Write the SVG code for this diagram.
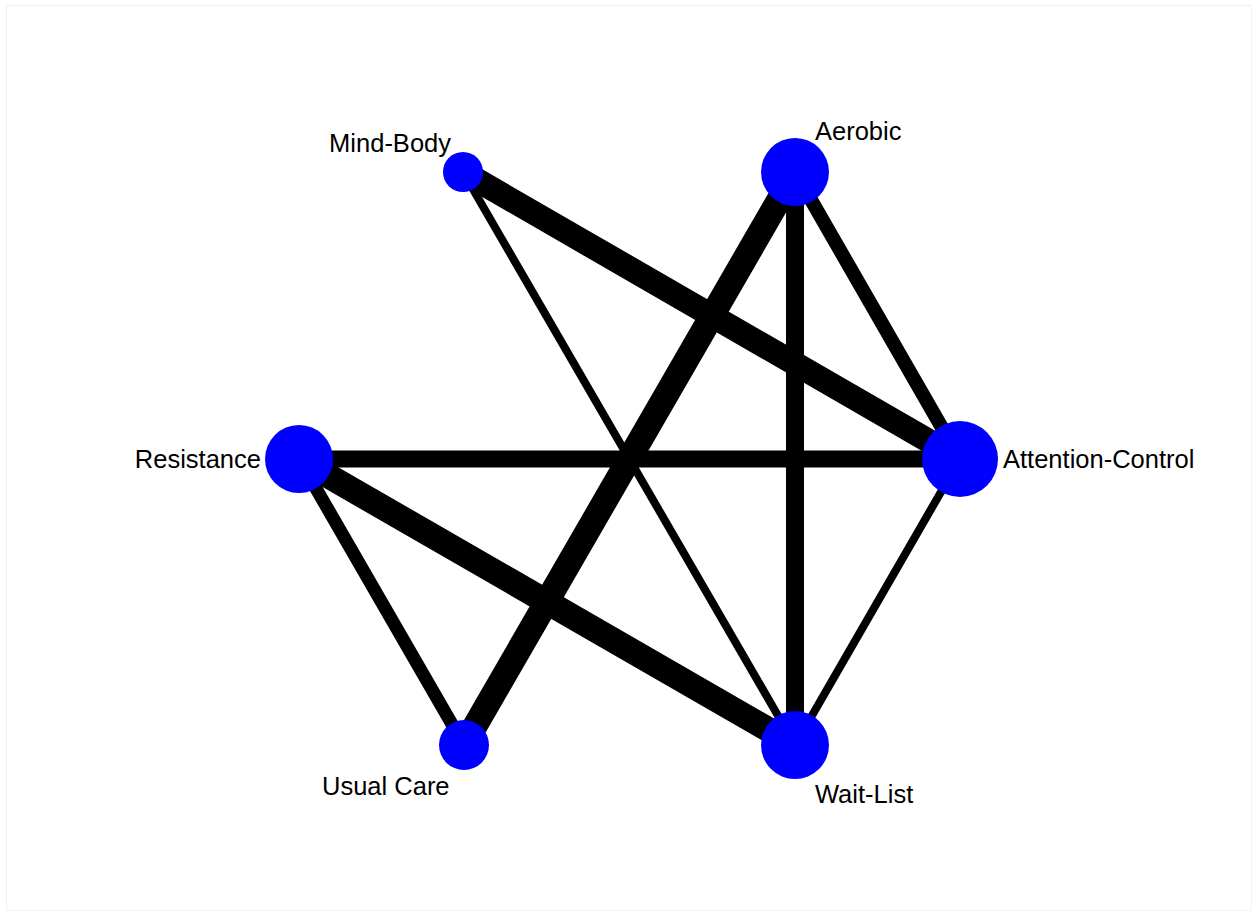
<svg xmlns="http://www.w3.org/2000/svg" width="1256" height="913" viewBox="0 0 1256 913">
<style>
.edge{stroke:#000;stroke-linecap:butt;fill:none}
.node{fill:#0000ff}
.lbl{font-family:"Liberation Sans",Arial,sans-serif;font-size:25.5px;fill:#000}
</style>
<rect x="0" y="0" width="1256" height="913" fill="#fff"/>
<rect x="6.5" y="5.5" width="1245" height="905" fill="none" stroke="#f2f2f2" stroke-width="1"/>
<g id="connectors">
<line class="edge" x1="463" y1="172" x2="960" y2="459" stroke-width="24"/>
<line class="edge" x1="463" y1="172" x2="795" y2="745" stroke-width="8"/>
<line class="edge" x1="795" y1="172" x2="464" y2="745" stroke-width="25"/>
<line class="edge" x1="795" y1="172" x2="795" y2="745" stroke-width="18"/>
<line class="edge" x1="795" y1="172" x2="960" y2="459" stroke-width="14"/>
<line class="edge" x1="299" y1="459" x2="960" y2="459" stroke-width="17"/>
<line class="edge" x1="299" y1="459" x2="795" y2="745" stroke-width="25"/>
<line class="edge" x1="299" y1="459" x2="464" y2="745" stroke-width="13"/>
<line class="edge" x1="960" y1="459" x2="795" y2="745" stroke-width="8"/>
</g>
<g id="node-mind-body"><circle class="node" cx="463" cy="172" r="20"/><text class="lbl" x="451" y="152" text-anchor="end">Mind-Body</text></g>
<g id="node-aerobic"><circle class="node" cx="795" cy="172" r="34"/><text class="lbl" x="815" y="140">Aerobic</text></g>
<g id="node-attention-control"><circle class="node" cx="960" cy="459" r="38"/><text class="lbl" x="1003" y="468">Attention-Control</text></g>
<g id="node-resistance"><circle class="node" cx="299" cy="459" r="34"/><text class="lbl" x="261" y="468" text-anchor="end">Resistance</text></g>
<g id="node-usual-care"><circle class="node" cx="464" cy="745" r="25"/><text class="lbl" x="322" y="795">Usual Care</text></g>
<g id="node-wait-list"><circle class="node" cx="795" cy="745" r="34"/><text class="lbl" x="815" y="803">Wait-List</text></g>
</svg>
